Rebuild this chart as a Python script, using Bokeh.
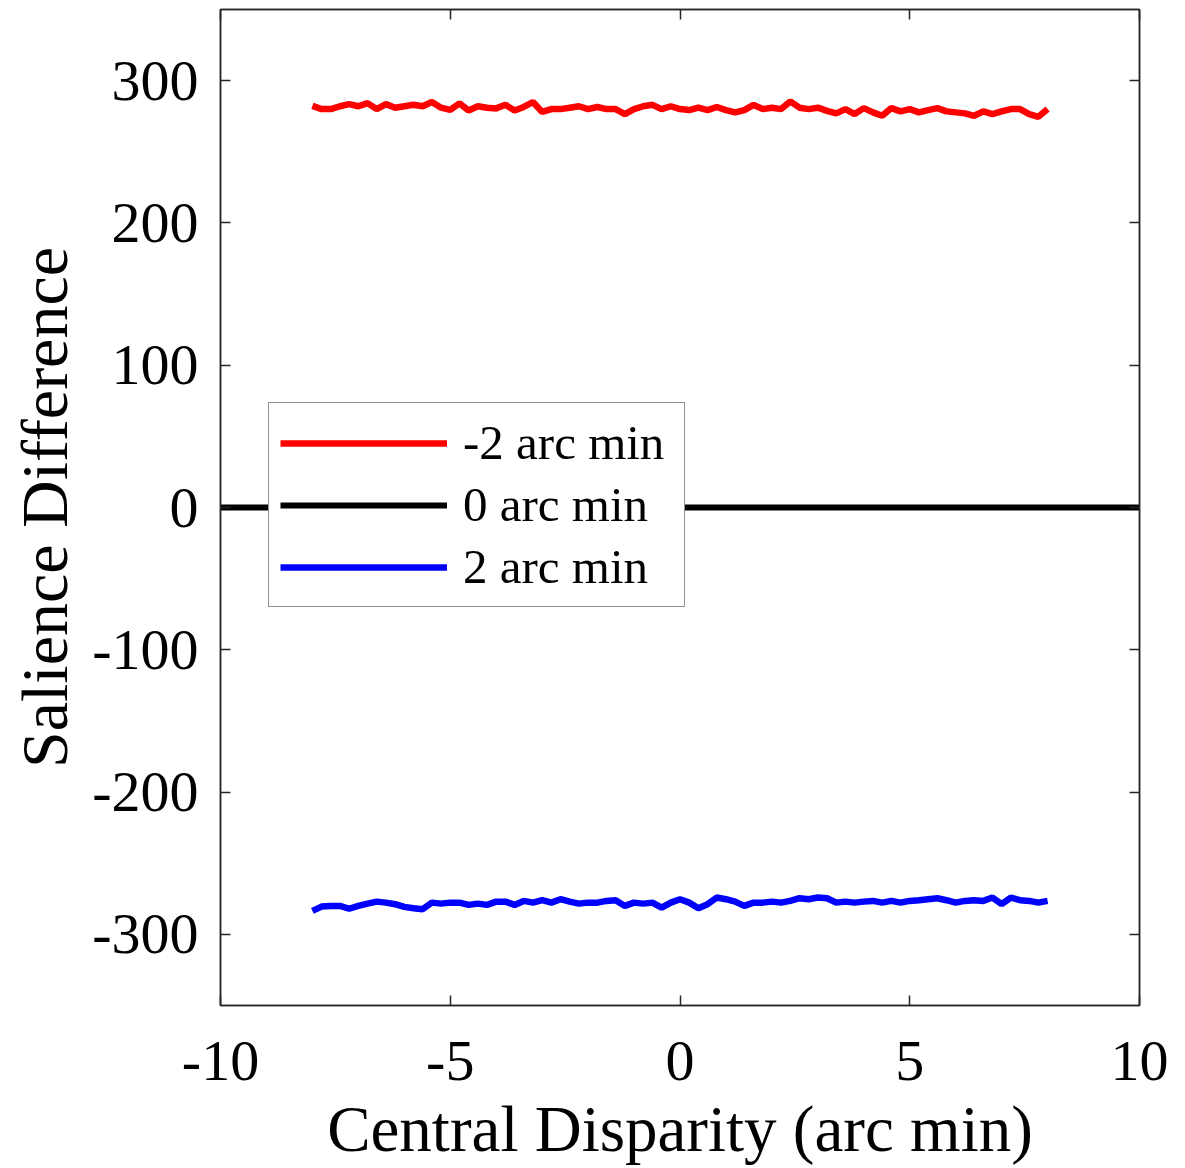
from bokeh.plotting import figure
from bokeh.models import Range1d, LinearAxis, FixedTicker, Legend, LegendItem, CustomJSTickFormatter
from bokeh.embed import file_html
from bokeh.resources import INLINE

# ---- data ----
disparity = [round(-8.0 + 0.2 * i, 1) for i in range(81)]

salience_neg2 = [
    282.3, 280.0, 280.0, 282.0, 283.5, 282.0, 284.2, 280.0, 283.5, 281.0,
    282.0, 283.0, 282.0, 285.0, 281.0, 279.5, 284.0, 279.0, 282.0, 281.0,
    280.5, 283.0, 279.0, 281.5, 285.0, 278.0, 280.0, 280.0, 281.0, 282.0,
    280.0, 281.5, 280.0, 280.0, 276.5, 280.0, 282.0, 283.0, 280.0, 282.0,
    280.0, 279.3, 281.0, 279.3, 281.5, 279.3, 277.7, 279.3, 283.0, 280.0,
    281.0, 280.0, 285.4, 281.0, 280.0, 281.0, 278.8, 277.0, 280.0, 276.5,
    280.7, 277.7, 275.3, 280.7, 278.4, 280.0, 277.7, 279.3, 280.7, 278.4,
    277.7, 277.0, 275.3, 278.4, 276.5, 278.4, 280.0, 280.0, 276.5, 274.6,
    280.0,
]

salience_pos2 = [
    -283.5, -280.5, -280.0, -280.0, -282.0, -280.0, -278.4, -277.0, -277.7, -278.8,
    -280.7, -281.6, -282.3, -277.7, -278.4, -277.7, -277.7, -279.3, -278.4, -279.3,
    -277.0, -277.0, -279.3, -276.5, -277.7, -276.0, -277.7, -275.3, -277.0, -278.4,
    -277.7, -277.7, -276.5, -276.0, -280.0, -277.7, -278.4, -277.7, -281.2, -277.7,
    -275.3, -277.7, -281.6, -278.8, -274.1, -275.3, -277.0, -280.0, -277.7, -277.7,
    -277.0, -277.7, -276.5, -274.6, -275.3, -274.1, -274.6, -277.7, -277.0, -277.7,
    -277.0, -276.5, -277.7, -276.5, -277.7, -276.5, -276.0, -275.3, -274.6, -276.0,
    -277.7, -276.5, -276.0, -276.5, -274.1, -278.8, -274.1, -276.0, -276.5, -277.7,
    -276.5,
]

zero_x = [-10, 10]
zero_y = [0, 0]

x_ticks = [-10, -5, 0, 5, 10]
y_ticks = [-300, -200, -100, 0, 100, 200, 300]

labels = ["-2 arc min", "0 arc min", "2 arc min"]
colors = ["#ff0000", "#000000", "#0000ff"]

FONT = "Liberation Serif"
AX = "#262626"

p = figure(width=1185, height=1168, output_backend="svg", toolbar_location=None,
           x_range=Range1d(-10, 10), y_range=Range1d(-350, 350),
           min_border_left=220, min_border_right=46, min_border_top=9, min_border_bottom=163)
p.grid.visible = False
p.outline_line_color = AX
p.outline_line_width = 1.5
p.background_fill_color = "white"
p.border_fill_color = "white"

r_neg = p.line(disparity, salience_neg2, line_color=colors[0], line_width=6.5)
r_zero = p.line(zero_x, zero_y, line_color=colors[1], line_width=6)
r_pos = p.line(disparity, salience_pos2, line_color=colors[2], line_width=6.5)

def style_axis(ax, ticks, show_labels=True):
    ax.ticker = FixedTicker(ticks=ticks)
    ax.axis_line_color = AX
    ax.axis_line_width = 1.5
    ax.major_tick_line_color = AX
    ax.major_tick_line_width = 1.5
    ax.major_tick_in = 10
    ax.major_tick_out = 0
    ax.minor_tick_line_color = None
    ax.major_label_text_font = FONT
    ax.major_label_text_color = "#000000"
    ax.axis_label_text_font = FONT
    ax.axis_label_text_font_style = "normal"
    ax.axis_label_text_color = "#000000"
    if show_labels:
        ax.formatter = CustomJSTickFormatter(code="return tick.toString()")
    else:
        ax.formatter = CustomJSTickFormatter(code="return ''")
        ax.major_label_text_font_size = "0px"
        ax.major_label_standoff = 0

xa = p.xaxis[0]
style_axis(xa, x_ticks)
xa.major_label_text_font_size = "58px"
xa.major_label_standoff = 36
xa.axis_label = "Central Disparity (arc min)"
xa.axis_label_text_font_size = "65px"
xa.axis_label_standoff = 10

ya = p.yaxis[0]
style_axis(ya, y_ticks)
ya.major_label_text_font_size = "58px"
ya.major_label_standoff = 22
ya.axis_label = "Salience Difference"
ya.axis_label_text_font_size = "66px"
ya.axis_label_standoff = 8

top_ax = LinearAxis()
style_axis(top_ax, x_ticks, show_labels=False)
p.add_layout(top_ax, "above")
right_ax = LinearAxis()
style_axis(right_ax, y_ticks, show_labels=False)
p.add_layout(right_ax, "right")

legend = Legend(items=[
    LegendItem(label=labels[0], renderers=[r_neg]),
    LegendItem(label=labels[1], renderers=[r_zero]),
    LegendItem(label=labels[2], renderers=[r_pos]),
], location=(48, 398))
legend.margin = 0
legend.padding = 11
legend.spacing = 5
legend.glyph_width = 167
legend.glyph_height = 40
legend.label_height = 40
legend.label_width = 210
legend.label_standoff = 16
legend.label_text_font = FONT
legend.label_text_font_size = "49px"
legend.label_text_color = "#000000"
legend.border_line_color = AX
legend.border_line_width = 1.5
legend.background_fill_color = "white"
legend.background_fill_alpha = 1.0
p.add_layout(legend, "center")

open("out.html", "w").write(file_html(p, INLINE))
